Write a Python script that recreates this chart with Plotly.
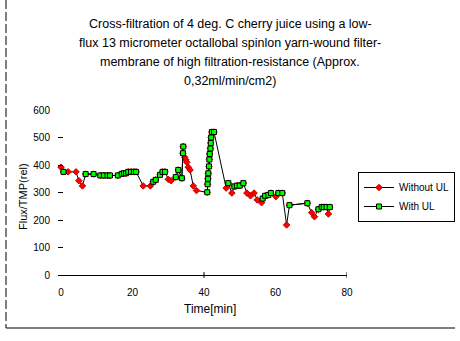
import plotly.graph_objects as go

# Sampling times (min) shared by both runs
time_min = [0, 0.7, 2, 4.2, 5, 6, 6.9, 9.1, 11, 12,
            13, 13.7, 15.9, 17, 17.6, 18.2, 18.8, 19.6, 20.4, 21,
            23, 25, 25.8, 26.5, 27.7, 28.4, 29.1, 30, 30.8, 32.1,
            32.8, 33.8, 34.1, 34.2, 34.6, 34.9, 35.2, 35.6, 36.1, 37,
            37.9, 40.9, 41.0, 41.1, 41.2, 41.4, 41.5, 41.6, 41.8, 41.9,
            42.0, 42.2, 42.8, 46.2, 46.8, 47.8, 48.5, 49.2, 50.0, 51,
            52, 53, 54, 54.9, 56.1, 56.4, 57.1, 58, 58.7, 60.1,
            60.8, 61.9, 63.1, 63.9, 68.9, 70.1, 70.9, 72, 72.9, 73.5,
            74.3, 74.8, 75.2]

# Relative flux / TMP, run without UL (every sample)
flux_without = [392, 375, 375, 375, 343, 324, 367, 367, 362, 362,
                362, 362, 362, 368, 370, 370, 375, 375, 375, 375,
                324, 324, 339, 346, 364, 375, 375, 348, 343, 356,
                382, 352, 443, 467, 428, 419, 410, 392, 382, 324,
                307, 301, 330, 350, 370, 395, 420, 440, 460, 480,
                500, 520, 520, 316, 334, 298, 322, 325, 325, 334,
                298, 288, 298, 273, 263, 278, 288, 291, 298, 285,
                298, 298, 182, 254, 261, 227, 212, 239, 247, 247,
                247, 222, 247]

# Relative flux / TMP, run with UL (None where not sampled)
N = None
flux_with = [N, 375, N, N, N, N, 367, 367, 362, 362,
             362, 362, 362, 368, 370, 370, 375, 375, 375, 375,
             N, N, 339, 346, 364, 375, 375, N, N, 356,
             382, 352, 443, 467, N, N, N, N, N, N,
             N, 301, 330, 350, 370, 395, 420, 440, 460, 480,
             500, 520, 520, N, 334, N, 322, 325, 325, 334,
             N, N, N, N, N, 278, 288, 291, 298, N,
             298, 298, N, 254, 261, N, N, 239, 247, 247,
             247, N, 247]

x_ticks = [0, 20, 40, 60, 80]
y_ticks = [0, 100, 200, 300, 400, 500, 600]

title_lines = [
    "Cross-filtration of 4 deg. C cherry juice using a low-",
    "flux 13 micrometer octallobal spinlon yarn-wound filter-",
    "membrane of high filtration-resistance (Approx.",
    "0,32ml/min/cm2)",
]

W, H = 460, 341
L, R, T, B = 58, 113, 110, 66
PW, PH = W - L - R, H - T - B
FONT = "Liberation Sans, Arial, sans-serif"


def px_x(px):
    return (px - L) / PW


def px_y(py):
    return (H - B - py) / PH


fig = go.Figure()

fig.add_trace(go.Scatter(
    x=time_min, y=flux_without, name="Without UL",
    mode="lines+markers",
    line=dict(color="black", width=1),
    marker=dict(symbol="diamond", size=5, color="#ff0000",
                line=dict(color="#c00000", width=1)),
    cliponaxis=False,
))

fig.add_trace(go.Scatter(
    x=time_min, y=flux_with, name="With UL",
    mode="lines+markers", connectgaps=False,
    line=dict(color="black", width=1),
    marker=dict(symbol="square", size=5, color="#00ff00",
                line=dict(color="black", width=1)),
    cliponaxis=False,
))

# x-axis tick marks crossing the baseline
for xv in [40, 80]:
    fig.add_shape(type="line", xref="x", yref="paper",
                  x0=xv, x1=xv, y0=-0.018, y1=0.018,
                  line=dict(color="black", width=1))

# chart-area frame: left and bottom edges
fig.add_shape(type="line", xref="paper", yref="paper",
              x0=px_x(6), x1=px_x(6), y0=px_y(0), y1=px_y(328),
              line=dict(color="black", width=1, dash="9px,3px"))
fig.add_shape(type="line", xref="paper", yref="paper",
              x0=px_x(6), x1=px_x(455), y0=px_y(328), y1=px_y(328),
              line=dict(color="black", width=1))

annotations = []
for i, line in enumerate(title_lines):
    annotations.append(dict(
        text=line, xref="paper", yref="paper",
        x=px_x(230), y=px_y(24 + 19 * i),
        xanchor="center", yanchor="middle", showarrow=False,
        font=dict(family=FONT, size=12.5, color="black"),
    ))

annotations.append(dict(
    text="Time[min]", xref="paper", yref="paper",
    x=px_x(210), y=px_y(309), xanchor="center", yanchor="middle",
    showarrow=False, font=dict(family=FONT, size=12, color="black"),
))
annotations.append(dict(
    text="Flux/TMP(rel)", xref="paper", yref="paper",
    x=px_x(23), y=px_y(197), xanchor="center", yanchor="middle",
    textangle=-90, showarrow=False,
    font=dict(family=FONT, size=11, color="black"),
))

fig.update_layout(
    width=W, height=H,
    margin=dict(l=L, r=R, t=T, b=B, pad=0, autoexpand=False),
    paper_bgcolor="white", plot_bgcolor="white",
    font=dict(family=FONT, size=10, color="black"),
    showlegend=True,
    legend=dict(
        x=px_x(358), y=px_y(172), xanchor="left", yanchor="top",
        bgcolor="white", bordercolor="black", borderwidth=1,
        font=dict(family=FONT, size=10, color="black"),
        tracegroupgap=0, itemwidth=30,
    ),
    annotations=annotations,
    xaxis=dict(
        range=[-0.84, 80], tickvals=x_ticks,
        ticks="", showgrid=False, zeroline=False,
        showline=True, linecolor="black", linewidth=1,
        ticklabelstandoff=8,
        tickfont=dict(family=FONT, size=10),
    ),
    yaxis=dict(
        range=[0, 600], tickvals=y_ticks,
        ticks="inside", ticklen=5, tickcolor="black",
        showgrid=False, zeroline=False, showline=False,
        ticklabelstandoff=7,
        tickfont=dict(family=FONT, size=10),
    ),
)

fig.write_html("out.html")
